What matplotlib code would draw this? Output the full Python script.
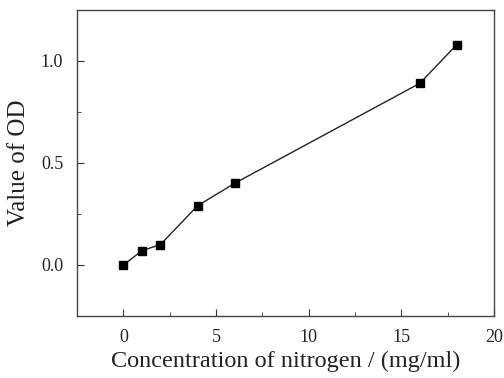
import matplotlib
matplotlib.use("Agg")
import matplotlib.pyplot as plt
from matplotlib.ticker import MultipleLocator

conc = [0, 1, 2, 4, 6, 16, 18]
od = [0.0, 0.07, 0.10, 0.29, 0.40, 0.89, 1.08]

plt.rcParams['font.family'] = ['Liberation Serif', 'DejaVu Serif']

fig = plt.figure(figsize=(5.04, 3.78), dpi=100)
ax = fig.add_axes([0.153, 0.164, 0.827, 0.810])

ax.plot(conc, od, color='#222222', lw=1.0, marker='s', ms=5.5, mfc='black', mec='black')

ax.set_xlim(-2.5, 20)
ax.set_ylim(-0.25, 1.25)
ax.xaxis.set_major_locator(MultipleLocator(5))
ax.xaxis.set_minor_locator(MultipleLocator(2.5))
ax.yaxis.set_major_locator(MultipleLocator(0.5))
ax.yaxis.set_minor_locator(MultipleLocator(0.25))
ax.tick_params(which='both', direction='in', colors='#333333', labelcolor='#222222', labelsize=13)
ax.tick_params(which='major', length=5)
ax.tick_params(which='minor', length=3)
ax.tick_params(axis='x', which='major', pad=9)
ax.tick_params(axis='y', which='major', pad=10)
for s in ax.spines.values():
    s.set_color('#444444')
    s.set_linewidth(1.0)

ax.set_xlabel('Concentration of nitrogen / (mg/ml)', fontsize=17.5, color='#222222', labelpad=4)
ax.set_ylabel('Value of OD', fontsize=18, color='#222222', labelpad=8)

fig.savefig('out.png', dpi=100)
